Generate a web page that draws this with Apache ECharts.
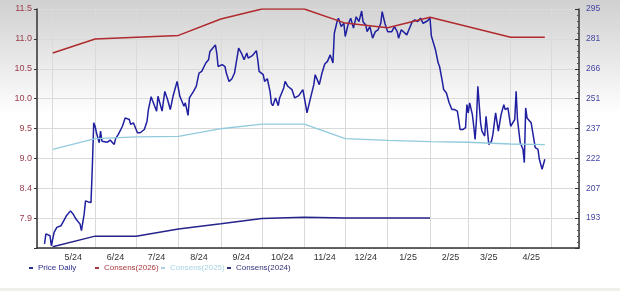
<!DOCTYPE html>
<html><head><meta charset="utf-8">
<script src="https://cdn.jsdelivr.net/npm/echarts@6/dist/echarts.min.js"></script>
<style>
html,body{margin:0;padding:0;}
body{width:620px;height:291px;background:linear-gradient(to bottom,#d0d0d0 0px,#ffffff 115px,#ffffff 100%);overflow:hidden;position:relative;}
#c{width:620px;height:291px;}
#bl{position:absolute;left:0;top:288px;width:620px;height:3px;background:#f1efea;}
</style></head><body><div id="c"></div><div id="bl"></div>
<script>
// ---------- DATA ----------
const xLabels = ['5/24','6/24','7/24','8/24','9/24','10/24','11/24','12/24','1/25','2/25','3/25','4/25'];
const leftLabels = ['', '7.9', '8.4', '9.0', '9.5', '10.0', '10.5', '11.0', '11.5'];
const rightLabels = ['', '193', '207', '222', '237', '251', '266', '281', '295'];

const priceDates = ['2024-04-25','2024-04-26','2024-04-29','2024-04-30','2024-05-02','2024-05-04','2024-05-07','2024-05-09','2024-05-11','2024-05-14','2024-05-16','2024-05-18','2024-05-21','2024-05-22','2024-05-24','2024-05-25','2024-05-27','2024-05-29','2024-05-30','2024-05-31','2024-06-01','2024-06-02','2024-06-04','2024-06-05','2024-06-06','2024-06-07','2024-06-10','2024-06-12','2024-06-15','2024-06-16','2024-06-18','2024-06-21','2024-06-23','2024-06-26','2024-06-27','2024-06-29','2024-07-02','2024-07-04','2024-07-07','2024-07-09','2024-07-10','2024-07-12','2024-07-13','2024-07-16','2024-07-17','2024-07-20','2024-07-22','2024-07-24','2024-07-26','2024-07-28','2024-07-31','2024-08-02','2024-08-05','2024-08-06','2024-08-08','2024-08-09','2024-08-12','2024-08-14','2024-08-16','2024-08-18','2024-08-21','2024-08-23','2024-08-24','2024-08-26','2024-08-28','2024-08-29','2024-08-30','2024-09-02','2024-09-04','2024-09-05','2024-09-07','2024-09-09','2024-09-11','2024-09-14','2024-09-16','2024-09-18','2024-09-20','2024-09-21','2024-09-24','2024-09-27','2024-09-28','2024-09-29','2024-10-02','2024-10-03','2024-10-05','2024-10-07','2024-10-08','2024-10-09','2024-10-11','2024-10-13','2024-10-14','2024-10-17','2024-10-18','2024-10-20','2024-10-23','2024-10-25','2024-10-28','2024-10-30','2024-10-31','2024-11-02','2024-11-03','2024-11-05','2024-11-08','2024-11-09','2024-11-12','2024-11-14','2024-11-16','2024-11-18','2024-11-20','2024-11-22','2024-11-23','2024-11-25','2024-11-26','2024-11-28','2024-11-30','2024-12-01','2024-12-03','2024-12-05','2024-12-07','2024-12-09','2024-12-11','2024-12-13','2024-12-14','2024-12-16','2024-12-17','2024-12-19','2024-12-21','2024-12-23','2024-12-25','2024-12-27','2024-12-28','2024-12-30','2025-01-01','2025-01-04','2025-01-06','2025-01-08','2025-01-09','2025-01-11','2025-01-12','2025-01-15','2025-01-17','2025-01-19','2025-01-21','2025-01-23','2025-01-25','2025-01-27','2025-01-28','2025-01-30','2025-02-01','2025-02-02','2025-02-05','2025-02-07','2025-02-08','2025-02-10','2025-02-11','2025-02-13','2025-02-15','2025-02-17','2025-02-19','2025-02-21','2025-02-22','2025-02-23','2025-02-25','2025-02-27','2025-02-28','2025-03-01','2025-03-02','2025-03-04','2025-03-05','2025-03-06','2025-03-07','2025-03-08','2025-03-10','2025-03-11','2025-03-13','2025-03-14','2025-03-16','2025-03-18','2025-03-19','2025-03-21','2025-03-23','2025-03-25','2025-03-27','2025-03-28','2025-03-30','2025-04-01','2025-04-02','2025-04-04','2025-04-05','2025-04-06','2025-04-08','2025-04-10','2025-04-11','2025-04-12','2025-04-13','2025-04-16','2025-04-19','2025-04-21','2025-04-22','2025-04-24','2025-04-26'];
const priceValues = [180.0,184.9,184.0,179.1,185.7,188.1,188.9,191.3,193.8,196.2,194.6,192.2,189.7,186.5,194.6,201.1,200.6,200.3,218.2,239.4,237.7,234.5,229.6,235.3,230.4,231.2,229.9,230.9,228.8,231.6,233.7,237.7,241.8,241.0,238.6,239.4,234.5,234.5,236.1,240.2,245.9,252.2,250.3,245.1,252.4,245.1,254.8,250.8,245.9,252.4,259.7,252.4,247.5,249.2,243.0,251.6,254.8,257.3,263.8,264.6,268.7,270.3,274.4,276.0,277.6,273.6,267.0,267.9,267.0,263.8,259.7,260.9,263.8,276.0,273.6,270.3,273.6,271.1,272.3,274.8,270.3,264.6,263.0,259.7,261.0,254.7,248.8,247.8,251.6,247.8,251.6,256.5,259.7,257.3,255.7,251.6,252.7,254.7,255.7,248.3,244.3,249.9,258.1,263.0,258.1,263.8,268.2,269.5,272.7,268.7,283.3,289.0,290.7,286.6,288.2,281.7,287.4,290.7,285.8,291.4,289.0,294.2,289.0,287.4,284.1,286.6,280.9,284.1,285.0,288.2,293.9,288.2,284.1,284.1,286.6,284.1,280.9,285.0,284.1,282.5,285.8,289.0,289.8,289.0,290.7,288.2,287.9,289.3,290.8,282.0,275.2,268.7,267.0,259.7,255.7,254.0,249.2,245.9,245.9,245.1,241.0,236.1,236.1,237.0,248.3,244.3,249.2,243.4,237.7,231.2,241.0,257.3,239.4,235.3,232.9,242.6,228.8,230.4,233.7,244.3,235.3,243.4,248.3,245.9,246.7,237.7,237.7,241.0,254.8,241.0,229.6,226.4,219.9,246.7,241.8,239.4,227.2,226.4,221.5,216.6,221.5];

const consDates = ['2024-05-01','2024-06-01','2024-07-01','2024-08-01','2024-09-01','2024-10-01','2024-11-01','2024-12-01','2025-01-01','2025-02-01','2025-03-01','2025-04-01','2025-04-26'];
const cons2026 = [10.75,10.99,null,11.05,11.33,11.50,11.50,11.26,11.18,11.36,null,11.02,11.02];
const cons2025 = [9.11,9.29,9.32,9.33,9.46,9.54,9.54,9.29,9.26,9.24,9.23,9.20,9.19];
const cons2024 = [7.45,7.63,7.63,7.75,7.84,7.93,7.95,7.94,7.94,7.94,null,null,null];

// ---------- SCALES ----------
const LEFT_MIN = 7.428, LEFT_STEP = 0.509, LEFT_MAX = 11.5;
const RIGHT_MIN = 178.0, RIGHT_STEP = 14.65, RIGHT_MAX = 295.2;
const X_MIN = new Date(2024, 3, 19, 12).getTime();
const X_MAX = new Date(2025, 4, 21).getTime();
const DAY = 86400000;

const zip = (d, v) => d.map((s, i) => [s, v[i]]);

const C_PRICE = '#1f1fa0', C_26 = '#b02a2e', C_25 = '#92cadd', C_24 = '#24248a';
const FONT = 'Liberation Sans, Arial, sans-serif';

function mkLegend(name, left, color) {
  return {
    data: [{ name: name, icon: 'rect', itemStyle: { color: color } }],
    left: left, top: 264, itemWidth: 4, itemHeight: 2, padding: 0,
    selectedMode: false,
    textStyle: { color: color, fontSize: 8, fontFamily: FONT }
  };
}

const chart = echarts.init(document.getElementById('c'), null, { renderer: 'canvas' });
chart.setOption({
  animation: false,
  backgroundColor: 'transparent',
  grid: { left: 37, right: 41, top: 9, bottom: 43, containLabel: false },
  legend: [
    mkLegend('Price Daily', 29, '#2c2c8c'),
    mkLegend('Consens(2026)', 95, '#a83a3e'),
    mkLegend('Consens(2025)', 161, '#a9d3e2'),
    mkLegend('Consens(2024)', 227, '#33337a')
  ],
  xAxis: {
    type: 'time', min: X_MIN, max: X_MAX,
    splitNumber: 13, minInterval: 28 * DAY, maxInterval: 31 * DAY,
    axisLine: { lineStyle: { color: '#333', width: 1.5 } },
    axisTick: { show: false },
    splitLine: { show: true, lineStyle: { color: '#dadada', width: 1 } },
    axisLabel: {
      color: '#333', fontSize: 9, fontFamily: FONT, margin: 5,
      padding: [0, 0, 0, 41], hideOverlap: false,
      showMinLabel: false, showMaxLabel: false,
      formatter: function (val) {
        const d = new Date(val);
        if (d.getDate() !== 1) return '';
        const l = (d.getMonth() + 1) + '/' + String(d.getFullYear()).slice(2);
        return xLabels.indexOf(l) >= 0 ? l : '';
      }
    }
  },
  yAxis: [
    {
      type: 'value', position: 'left', min: LEFT_MIN, max: LEFT_MAX, interval: LEFT_STEP,
      axisLine: { show: true, lineStyle: { color: '#333', width: 1.5 } },
      axisTick: { show: true, length: 3, lineStyle: { color: '#333' } },
      splitLine: { show: true, lineStyle: { color: '#dadada', width: 1 } },
      axisLabel: {
        color: '#9a3c4c', fontSize: 9, fontFamily: FONT, margin: 5,
        formatter: function (v) { return leftLabels[Math.round((v - LEFT_MIN) / LEFT_STEP)] || ''; }
      }
    },
    {
      type: 'value', position: 'right', min: RIGHT_MIN, max: RIGHT_MAX, interval: RIGHT_STEP,
      axisLine: { show: true, lineStyle: { color: '#333', width: 1.5 } },
      axisTick: { show: true, inside: true, length: 4, lineStyle: { color: '#333' } },
      minorTick: { show: true, splitNumber: 5, length: 2, lineStyle: { color: '#555' } },
      splitLine: { show: false },
      axisLabel: {
        color: '#4646a6', fontSize: 8.5, fontFamily: FONT, margin: 7,
        formatter: function (v) { return rightLabels[Math.round((v - RIGHT_MIN) / RIGHT_STEP)] || ''; }
      }
    }
  ],
  series: [
    { name: 'Price Daily', type: 'line', yAxisIndex: 1, data: zip(priceDates, priceValues),
      showSymbol: false, symbol: 'none', lineStyle: { color: C_PRICE, width: 1.5 }, itemStyle: { color: C_PRICE } },
    { name: 'Consens(2026)', type: 'line', yAxisIndex: 0, data: zip(consDates, cons2026), connectNulls: true,
      showSymbol: false, symbol: 'none', lineStyle: { color: C_26, width: 1.5 }, itemStyle: { color: C_26 } },
    { name: 'Consens(2025)', type: 'line', yAxisIndex: 0, data: zip(consDates, cons2025), connectNulls: true,
      showSymbol: false, symbol: 'none', lineStyle: { color: C_25, width: 1.3 }, itemStyle: { color: C_25 } },
    { name: 'Consens(2024)', type: 'line', yAxisIndex: 0, data: zip(consDates, cons2024), connectNulls: true,
      showSymbol: false, symbol: 'none', lineStyle: { color: C_24, width: 1.5 }, itemStyle: { color: C_24 } }
  ]
});
</script>
</body></html>
